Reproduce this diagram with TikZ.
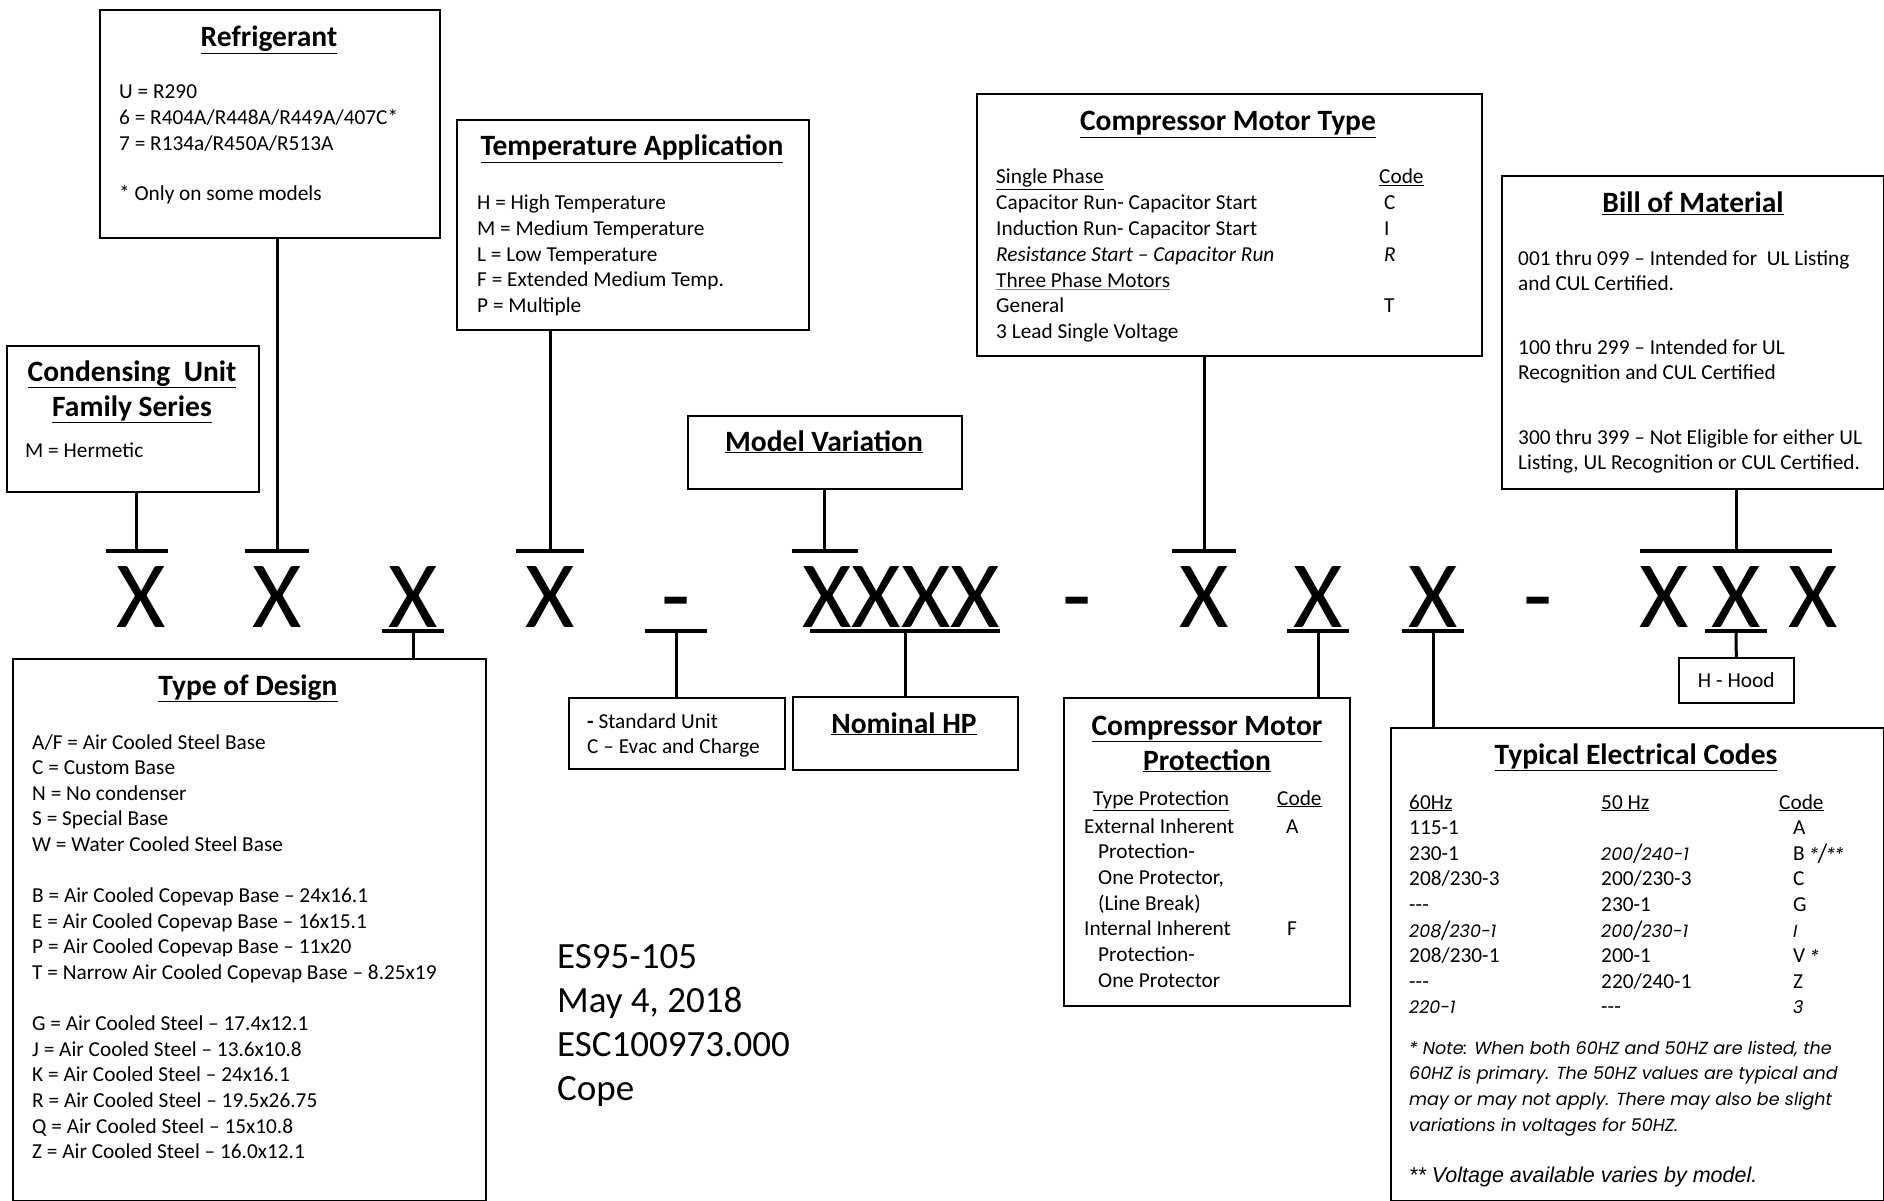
\documentclass[tikz,border=0pt]{standalone}
\usepackage{fontspec}
\setmainfont{Carlito}
\newfontfamily\gothic{Poppins}
\newfontfamily\arialfont{Liberation Sans}
\newcommand{\gi}[1]{{\gothic\itshape\fontsize{17.5}{25.6}\selectfont #1}}
\newcommand{\leftrows}[1]{\begin{tabular}[t]{@{}l@{}}#1\end{tabular}}
\newcommand{\midrows}[1]{\begin{tabular}[t]{@{}c@{}}#1\end{tabular}}
\tikzset{
  box/.style={draw, line width=1.6pt, anchor=north west, inner sep=0pt},
  head/.style={font=\fontsize{29.5}{35}\selectfont\bfseries, anchor=base, inner sep=0pt},
  body/.style={font=\fontsize{21.3}{25.6}\selectfont, anchor=base west, inner sep=0pt},
  code/.style={font=\fontsize{95}{95}\selectfont, anchor=base, inner sep=0pt},
  stem/.style={line width=3pt},
  bar/.style={line width=4pt},
}
\begin{document}
\begin{tikzpicture}[x=1pt,y=-1pt]
\useasboundingbox (0,0) rectangle (1884,1201);
% boxes
\node[box, minimum width=340pt, minimum height=228pt] (refr) at (99,9) {};
\node[box, minimum width=252pt, minimum height=146pt] (fam) at (6,345) {};
\node[box, minimum width=352pt, minimum height=210pt] (temp) at (456,119) {};
\node[box, minimum width=505pt, minimum height=262pt] (motor) at (976,93) {};
\node[box, minimum width=382pt, minimum height=313pt] (bom) at (1501,175) {};
\node[box, minimum width=274pt, minimum height=73pt] (var) at (687,415) {};
\node[box, minimum width=473pt, minimum height=542pt] (design) at (12,658) {};
\node[box, minimum width=216pt, minimum height=71pt] (std) at (568,697) {};
\node[box, minimum width=225pt, minimum height=73pt] (hp) at (792,696) {};
\node[box, minimum width=286pt, minimum height=308pt] (prot) at (1063,697) {};
\node[box, minimum width=493pt, minimum height=473pt] (elec) at (1390,727) {};
\node[box, minimum width=115pt, minimum height=45pt, font=\fontsize{21.4}{24}\selectfont] (hood) at (1678,657) {H - Hood};

% titles
\node[head] (refrT) at (269,47) {\underline{Refrigerant}};
\node[head] (famT) at (132,381) {\midrows{\underline{Condensing\ \ Unit}\\\underline{Family Series}}};
\node[head] (tempT) at (632,156) {\underline{Temperature Application}};
\node[head] (motorT) at (1228,131) {\underline{Compressor Motor Type}};
\node[head] (bomT) at (1693,213) {\underline{Bill of Material}};
\node[head] (varT) at (824,451) {\underline{Model Variation}};
\node[head] (designT) at (248,695) {\underline{Type of Design}};
\node[head] (hpT) at (904,733) {\underline{Nominal HP}};
\node[head] (protT) at (1207,735) {\midrows{\underline{Compressor Motor}\\\underline{Protection}}};
\node[head] (elecT) at (1636,764) {\underline{Typical Electrical Codes}};

% texts
\node[body] (refrL) at (119,99) {\leftrows{U = R290\\6 = R404A/R448A/R449A/407C*\\7 = R134a/R450A/R513A\\[25pt]* Only on some models}};
\node[body] (famL) at (25,457) {M = Hermetic};
\node[body] (tempL) at (477,210) {\leftrows{H = High Temperature\\M = Medium Temperature\\L = Low Temperature\\F = Extended Medium Temp.\\P = Multiple}};
\node[body, font=\fontsize{21.3}{25.8}\selectfont] (motorL) at (996,184) {\leftrows{\underline{Single Phase}\\Capacitor Run- Capacitor Start\\Induction Run- Capacitor Start\\\textit{Resistance Start -- Capacitor Run}\\{\color{gray}\underline{\color{black}Three Phase Motors}}\\General\\3 Lead Single Voltage}};
\node[body, font=\fontsize{21.3}{25.8}\selectfont] (motorC) at (1379,184) {\leftrows{\underline{Code}\\\hspace*{5pt}C\\\hspace*{5pt}I\\\hspace*{5pt}\textit{R}\\\mbox{}\\\hspace*{5pt}T}};
\node[body, font=\fontsize{21.3}{25.5}\selectfont] (bomL) at (1518,265) {\leftrows{001 thru 099 -- Intended for\ \ UL Listing\\and CUL Certified.\\[38.5pt]100 thru 299 -- Intended for UL\\Recognition and CUL Certified\\[38.5pt]300 thru 399 -- Not Eligible for either UL\\Listing, UL Recognition or CUL Certified.}};
\node[body] (designL) at (32,749) {\leftrows{A/F = Air Cooled Steel Base\\C = Custom Base\\N = No condenser\\S = Special Base\\W = Water Cooled Steel Base\\[25.6pt]B = Air Cooled Copevap Base -- 24x16.1\\E = Air Cooled Copevap Base -- 16x15.1\\P = Air Cooled Copevap Base -- 11x20\\T = Narrow Air Cooled Copevap Base -- 8.25x19\\[25.6pt]G = Air Cooled Steel -- 17.4x12.1\\J = Air Cooled Steel -- 13.6x10.8\\K = Air Cooled Steel -- 24x16.1\\R = Air Cooled Steel -- 19.5x26.75\\Q = Air Cooled Steel -- 15x10.8\\Z = Air Cooled Steel -- 16.0x12.1}};
\node[body, font=\fontsize{21.3}{25}\selectfont] (stdL) at (587,728) {\leftrows{\textbf{-} Standard Unit\\C -- Evac and Charge}};
\node[body] (protH) at (1093,805) {\underline{Type Protection}};
\node[body] (protC) at (1277,805) {\underline{Code}};
\node[body, font=\fontsize{21.3}{25.7}\selectfont] (protL) at (1084,833) {\leftrows{External Inherent\\\hspace*{14pt}Protection-\\\hspace*{14pt}One Protector,\\\hspace*{14pt}(Line Break)\\Internal Inherent\\\hspace*{14pt}Protection-\\\hspace*{14pt}One Protector}};
\node[body] (protA) at (1286,833) {A};
\node[body] (protF) at (1287,935) {F};
\node[body] (hz60) at (1409,809) {\leftrows{\underline{60Hz}\\115-1\\230-1\\208/230-3\\-{}-{}-\\\gi{208/230-1}\\208/230-1\\-{}-{}-\\\gi{220-1}}};
\node[body] (hz50) at (1601,809) {\leftrows{\underline{50 Hz}\\\mbox{}\\\gi{200/240-1}\\200/230-3\\230-1\\\gi{200/230-1}\\200-1\\220/240-1\\-{}-{}-}};
\node[body] (elecC) at (1779,809) {\leftrows{\underline{Code}\\\hspace*{14pt}A\\\hspace*{14pt}B \gi{*/**}\\\hspace*{14pt}C\\\hspace*{14pt}G\\\hspace*{14pt}\gi{I}\\\hspace*{14pt}V \gi{*}\\\hspace*{14pt}Z\\\hspace*{14pt}\gi{3}}};
\node[body, font=\gothic\itshape\fontsize{17.5}{25.7}\selectfont] (note) at (1409,1054) {\leftrows{* Note: When both 60HZ and 50HZ are listed, the\\60HZ is primary. The 50HZ values are typical and\\may or may not apply. There may also be slight\\variations in voltages for 50HZ.}};
\node[body, font=\arialfont\itshape\fontsize{21.5}{24}\selectfont] (vnote) at (1409,1182) {** Voltage available varies by model.};
\node[body, font=\fontsize{37}{44.3}\selectfont] (doc) at (557,968) {\leftrows{ES95-105\\May 4, 2018\\ESC100973.000\\Cope}};

% model code
\foreach \n/\p in {x1/141, x2/277, x3/413, x4/550, x5/1204, x6/1318, x7/1433, x8/1664, x9/1736, x10/1813}
  \node[code] (\n) at (\p,627) {X};
\node[code] (xm) at (901,627) {XXXX};
\foreach \n/\p in {d1/676, d2/1077, d3/1538}
  \node[code] (\n) at (\p,627) {-};
\coordinate (top) at (0,551);
\coordinate (bot) at (0,631);

% connectors above
\draw[stem] ([xshift=4pt]fam.south) -- ([xshift=4pt]fam.south |- top);
\draw[bar] ([xshift=4pt]fam.south |- top) ++(-31,0) -- ++(62,0);
\draw[stem] (x2 |- refr.south) -- (x2 |- top);
\draw[bar] (x2 |- top) ++(-32,0) -- ++(64,0);
\draw[stem] (x4 |- temp.south) -- (x4 |- top);
\draw[bar] (x4 |- top) ++(-34,0) -- ++(68,0);
\draw[stem] (var.south) -- (var.south |- top);
\draw[bar] (var.south |- top) ++(-33,0) -- ++(66,0);
\draw[stem] (x5 |- motor.south) -- (x5 |- top);
\draw[bar] (x5 |- top) ++(-32,0) -- ++(64,0);
\draw[stem] (x9 |- bom.south) -- (x9 |- top);
\draw[bar] (x9 |- top) ++(-96,0) -- ++(192,0);
% connectors below
\draw[stem] (x3 |- bot) -- (x3 |- design.north);
\draw[bar] (x3 |- bot) ++(-31,0) -- ++(62,0);
\draw[stem] (d1 |- bot) -- (d1 |- std.north);
\draw[bar] (d1 |- bot) ++(-31,0) -- ++(62,0);
\draw[stem] (hp.north |- bot) -- (hp.north);
\draw[bar] (hp.north |- bot) ++(-95,0) -- ++(190,0);
\draw[stem] (x6 |- bot) -- (x6 |- prot.north);
\draw[bar] (x6 |- bot) ++(-31,0) -- ++(62,0);
\draw[stem] (x7 |- bot) -- (x7 |- elec.north);
\draw[bar] (x7 |- bot) ++(-31,0) -- ++(62,0);
\draw[stem] (x9 |- bot) -- (hood.north);
\draw[bar] (x9 |- bot) ++(-31,0) -- ++(62,0);
\end{tikzpicture}
\end{document}
